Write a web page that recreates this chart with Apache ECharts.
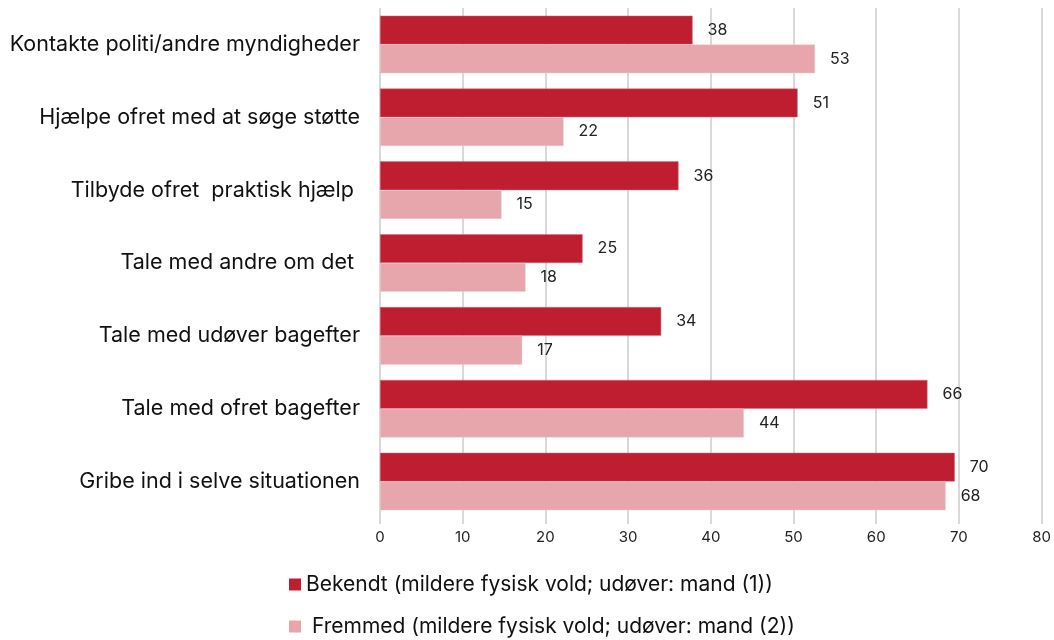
<!DOCTYPE html>
<html>
<head>
<meta charset="utf-8">
<script src="https://cdn.jsdelivr.net/npm/echarts@6/dist/echarts.min.js"></script>
<style>
html,body{margin:0;padding:0;background:#fff;}
#chart{width:1054px;height:640px;}
</style>
</head>
<body>
<div id="chart"></div>
<script>
const categories = [
  "Kontakte politi/andre myndigheder",
  "Hjælpe ofret med at søge støtte",
  "Tilbyde ofret  praktisk hjælp ",
  "Tale med andre om det ",
  "Tale med udøver bagefter",
  "Tale med ofret bagefter",
  "Gribe ind i selve situationen"
];
const seriesNames = [
  "Bekendt (mildere fysisk vold; udøver: mand (1))",
  " Fremmed (mildere fysisk vold; udøver: mand (2))"
];
const bekendt = [37.8, 50.5, 36.1, 24.5, 34.0, 66.2, 69.5];
const fremmed = [52.6, 22.2, 14.7, 17.6, 17.2, 44.0, 68.4];
const xTicks = [0, 10, 20, 30, 40, 50, 60, 70, 80];

const FONT = 'Inter, "Noto Sans", sans-serif';
const chart = echarts.init(document.getElementById('chart'));
const labelCfg = {
  show: true,
  position: 'right',
  distance: 15,
  fontFamily: FONT,
  fontSize: 16,
  color: '#222',
  formatter: p => Math.round(p.value)
};
const legendBase = {
  orient: 'vertical',
  left: 284,
  itemWidth: 12,
  itemHeight: 12,
  icon: 'rect',
  itemStyle: { borderWidth: 0 },
  textStyle: { fontFamily: FONT, fontSize: 21, color: '#111' }
};
chart.setOption({
  animation: false,
  textStyle: { fontFamily: FONT },
  grid: { left: 380, right: 12, top: 8, bottom: 122, containLabel: false },
  xAxis: {
    type: 'value',
    min: xTicks[0],
    max: xTicks[xTicks.length - 1],
    interval: 10,
    axisLine: { show: false },
    axisTick: { show: true, length: 6, lineStyle: { color: '#d9d9d9', width: 2 } },
    splitLine: { show: true, lineStyle: { color: '#d9d9d9', width: 2 } },
    axisLabel: { fontFamily: FONT, fontSize: 15, color: '#222', margin: 12 }
  },
  yAxis: {
    type: 'category',
    data: categories,
    inverse: true,
    axisLine: { show: false },
    axisTick: { show: false },
    axisLabel: { fontFamily: FONT, fontSize: 21.5, color: '#111', margin: 20 }
  },
  legend: [
    Object.assign({}, legendBase, { top: 569, data: [seriesNames[0]] }),
    Object.assign({}, legendBase, { top: 611, data: [seriesNames[1]] })
  ],
  series: [
    {
      name: seriesNames[0],
      type: 'bar',
      data: bekendt,
      barGap: '0%',
      barCategoryGap: '21%',
      itemStyle: { color: '#BE1E2F', borderColor: '#D8707A', borderWidth: 0.5 },
      label: labelCfg
    },
    {
      name: seriesNames[1],
      type: 'bar',
      data: fremmed,
      barGap: '0%',
      barCategoryGap: '21%',
      itemStyle: { color: '#E6A6AB', borderColor: '#F0CDD0', borderWidth: 0.5 },
      label: labelCfg
    }
  ]
});
</script>
</body>
</html>
